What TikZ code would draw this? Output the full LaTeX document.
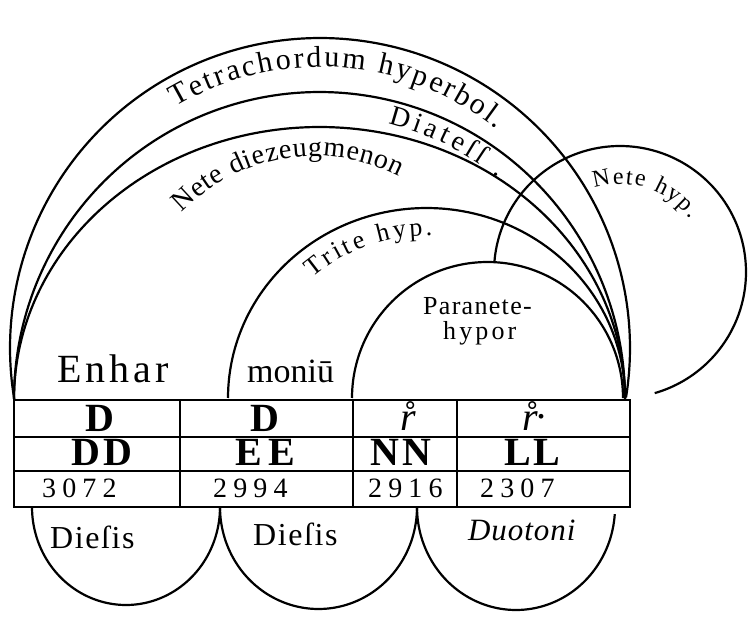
\documentclass[tikz,border=0pt]{standalone}
\usepackage{fontspec}
\setmainfont{Liberation Serif}
\usetikzlibrary{decorations.text}
\begin{document}
\begin{tikzpicture}[x=1pt,y=-1pt,
  arcline/.style={line width=2.2pt, line join=round},
  rule/.style={line width=2.6pt},
  txt/.style={inner sep=0pt, anchor=base west},
  cellL/.style={inner sep=0pt, anchor=base, font=\fontsize{40}{40}\selectfont\bfseries},
  sym/.style={inner sep=0pt, anchor=base, font=\fontsize{40}{40}\selectfont\itshape},
  num/.style={inner sep=0pt, anchor=base west, font=\fontsize{28}{28}\selectfont\addfontfeatures{LetterSpace=22}},
]
\useasboundingbox (0,0) rectangle (756,620);

% ---- table ----
\draw[rule] (14,400) rectangle (630,507);
\draw[rule] (14,437) -- (630,437);
\draw[rule] (14,471) -- (630,471);
\draw[rule] (180,400) -- (180,507);
\draw[rule] (353,400) -- (353,507);
\draw[rule] (457,400) -- (457,507);

% ---- upper arcs ----
\draw[arcline] plot[domain=-9.5:189.2, samples=160, variable=\t] ({320-310*cos(\t)},{348-310*sin(\t)});
\draw[arcline] plot[domain=0:180, samples=140, variable=\t] ({319.5-305.5*cos(\t)},{399-307*sin(\t)});
\draw[arcline] plot[domain=0:180, samples=140, variable=\t] ({319.5-305.5*cos(\t)},{399-272*sin(\t)});
\draw[arcline] plot[domain=0:180, samples=110, variable=\t] ({426.5-198.5*cos(\t)},{398-190*sin(\t)});
\draw[arcline] plot[domain=0:180, samples=100, variable=\t] ({487.5-135.5*cos(\t)},{398-136*sin(\t)});
\draw[arcline] plot[domain=4.6:254, samples=140, variable=\t] ({620-126*cos(\t)},{272-126*sin(\t)});

% ---- lower arcs ----
\draw[arcline] plot[domain=0:180, samples=90, variable=\t] ({126-94*cos(\t)},{507+98*sin(\t)});
\draw[arcline] plot[domain=0:180, samples=90, variable=\t] ({318.5-98.5*cos(\t)},{507+102*sin(\t)});
\draw[arcline] plot[domain=0:176, samples=90, variable=\t] ({516-99*cos(\t)},{507+103*sin(\t)});

% ---- curved labels ----
\path[decorate, decoration={text along path, text format delimiters={|}{|},
  text={|\fontsize{30}{30}\selectfont|Tetrachordum hyperbol.}, text align={fit to path}}]
  plot[domain=59:129, samples=80, variable=\t] ({320-281*cos(\t)},{348-281*sin(\t)});
\path[decorate, decoration={text along path, text format delimiters={|}{|},
  text={|\fontsize{28}{28}\selectfont|Diateſſ .}, text align={fit to path}}]
  plot[domain=104:129, samples=40, variable=\t] ({319.5-284*cos(\t)},{399-284*sin(\t)});
\path[decorate, decoration={text along path, text format delimiters={|}{|},
  text={|\fontsize{28}{28}\selectfont|Nete diezeugmenon}, text align={fit to path}}]
  plot[domain=44:117, samples=80, variable=\t] ({315-185*cos(\t)},{341-185*sin(\t)});
\path[decorate, decoration={text along path, text format delimiters={|}{|},
  text={|\fontsize{26}{26}\selectfont|Trite hyp.}, text align={fit to path}}]
  plot[domain=48:92, samples=50, variable=\t] ({426.5-170*cos(\t)},{398-162*sin(\t)});
\path[decorate, decoration={text along path, text format delimiters={|}{|},
  text={|\fontsize{24}{24}\selectfont|Nete hyp.}, text align={fit to path}}]
  plot[domain=73:143, samples=60, variable=\t] ({620-88*cos(\t)},{272-88*sin(\t)});

% ---- straight labels ----
\node[txt, font=\fontsize{40}{40}\selectfont\addfontfeatures{LetterSpace=10}] (enhar) at (57,383) {Enhar};
\node[txt, font=\fontsize{34}{34}\selectfont] (moniu) at (247,383) {moniū};
\node[txt, font=\fontsize{26}{26}\selectfont\addfontfeatures{LetterSpace=5}] (paranete) at (423,315) {Paranete-};
\node[txt, font=\fontsize{26}{26}\selectfont\addfontfeatures{LetterSpace=12}] (hypor) at (443,340) {hypor};

% row 1
\node[cellL] (r1a) at (100,432) {D};
\node[cellL] (r1b) at (265,432) {D};
\node[sym] (r1c) at (408,431) {r̊};
\node[sym] (r1d) at (535,431) {r̊\raisebox{0.32em}{.}};
% row 2
\node[cellL] (r2a) at (102,466) {D\kern4pt D};
\node[cellL] (r2b) at (265,466) {E\kern6pt E};
\node[cellL] (r2c) at (401,466) {N\kern4pt N};
\node[cellL] (r2d) at (532,466) {L\kern2pt L};
% row 3
\node[num] (r3a) at (42,498) {3072};
\node[num] (r3b) at (213,498) {2994};
\node[num] (r3c) at (368,498) {2916};
\node[num] (r3d) at (480,498) {2307};

% below
\node[txt, font=\fontsize{32}{32}\selectfont\addfontfeatures{LetterSpace=5}] (diesisA) at (50,548) {Dieſis};
\node[txt, font=\fontsize{32}{32}\selectfont\addfontfeatures{LetterSpace=5}] (diesisB) at (253,546) {Dieſis};
\node[txt, font=\fontsize{31}{31}\selectfont\itshape\addfontfeatures{LetterSpace=3}] (duotoni) at (468,540) {Duotoni};
\end{tikzpicture}
\end{document}
